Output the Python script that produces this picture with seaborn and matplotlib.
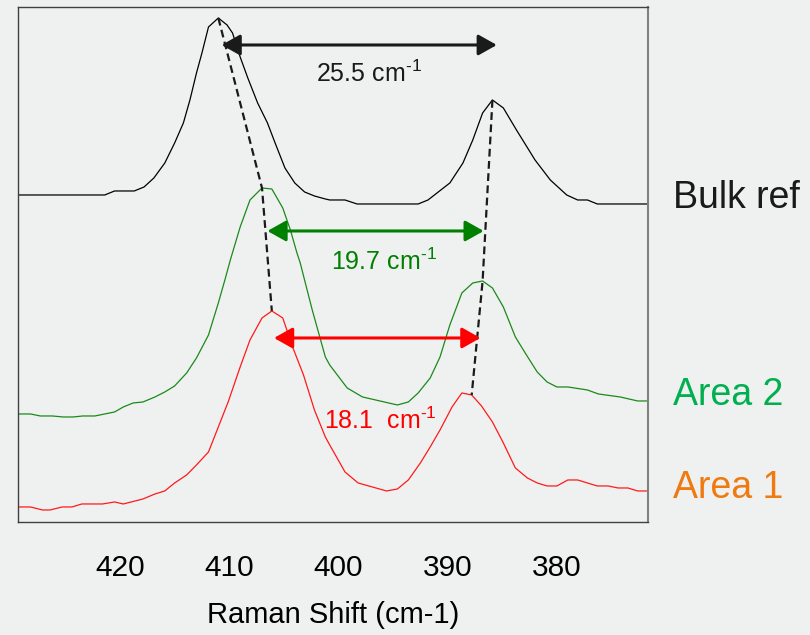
import numpy as np
import pandas as pd
import matplotlib
matplotlib.use("Agg")
import matplotlib.pyplot as plt
import seaborn as sns

# ---- data (Raman shift in cm-1, intensity in arbitrary offset units) ----
bulk_x = [429.3, 421.4, 420.5, 418.7, 417.8, 416.9, 415.9, 415.0, 414.2, 413.6, 413.0, 412.5,
          411.9, 411.0, 410.2, 409.7, 409.0, 408.3, 407.4, 406.5, 405.8, 404.9, 404.0, 403.1,
          402.2, 401.2, 400.8, 399.4, 398.3, 392.7, 391.8, 389.8, 388.6, 387.7, 386.8, 385.9,
          384.9, 383.7, 382.0, 380.6, 379.1, 378.1, 377.2, 376.3, 371.7]
bulk_y = [327, 327, 331, 331, 335, 344, 359, 379, 399, 422, 449, 469,
          495, 504, 497, 489, 465, 444, 419, 399, 379, 354, 339, 330,
          326, 323, 322, 322, 318, 318, 322, 339, 359, 382, 409, 422,
          414, 392, 362, 342, 327, 322, 322, 318, 318]

area2_x = [429.3, 428.2, 427.3, 426.2, 425.2, 424.3, 423.4, 422.3, 420.5, 419.7, 418.8, 417.9,
           416.8, 415.9, 415.0, 413.9, 413.0, 411.9, 411.0, 410.4, 409.9, 409.0, 408.1, 407.0,
           406.1, 405.1, 404.4, 403.8, 403.5, 402.4, 401.2, 400.8, 399.2, 397.8, 394.6, 393.6,
           392.7, 391.6, 390.7, 389.8, 388.7, 387.7, 386.8, 385.9, 384.9, 383.8, 382.9, 381.8,
           380.9, 380.0, 379.0, 377.2, 376.2, 374.2, 372.6, 371.7]
area2_y = [108, 108, 106, 106, 105, 105, 106, 106, 110, 115, 119, 120,
           125, 130, 136, 149, 164, 187, 219, 242, 262, 295, 322, 334,
           333, 314, 292, 269, 259, 212, 165, 157, 134, 125, 117, 120,
           129, 144, 165, 197, 229, 239, 241, 234, 215, 185, 169, 150,
           140, 135, 135, 132, 128, 125, 121, 121]

area1_x = [429.3, 428.2, 427.1, 426.4, 425.3, 424.4, 423.5, 421.6, 420.5, 419.7, 417.9, 416.8,
           415.9, 415.0, 413.9, 413.0, 411.9, 411.0, 410.1, 409.0, 408.1, 407.0, 406.1, 405.1,
           404.2, 403.2, 402.2, 401.2, 400.8, 399.4, 398.2, 395.6, 394.6, 393.6, 392.5, 391.6,
           390.7, 389.6, 388.7, 387.8, 386.9, 385.9, 384.9, 383.8, 382.7, 381.8, 380.9, 380.0,
           379.0, 378.1, 376.3, 375.3, 374.4, 373.5, 372.6, 371.7]
area1_y = [15, 15, 12, 12, 15, 15, 18, 18, 20, 18, 23, 28,
           31, 39, 47, 57, 70, 95, 120, 155, 182, 204, 211, 204,
           175, 147, 112, 85, 77, 50, 39, 31, 33, 42, 59, 75,
           92, 115, 129, 127, 116, 100, 79, 54, 44, 39, 36, 36,
           42, 42, 36, 36, 34, 34, 31, 31]

series_names = ["Bulk ref", "Area 2", "Area 1"]
line_colors = ["#000000", "#1a8a1a", "#ff1a1a"]
label_colors = ["#1a1a1a", "#00b050", "#ee7a10"]
label_levels = [324, 127, 34]

peak_left = [411.0, 407.0, 406.1]
peak_right = [385.9, 386.8, 387.8]

splits = [r"25.5 cm$^{\text{-1}}$", r"19.7 cm$^{\text{-1}}$", r"18.1  cm$^{\text{-1}}$"]
arrow_from = [410.7, 406.5, 405.9]
arrow_to = [385.5, 386.7, 387.0]
arrow_level = [477, 291, 184]
split_text_x = [397.2, 395.8, 396.2]
split_text_y = [448, 260, 101]
arrow_colors = ["#1a1a1a", "#008000", "#ff0000"]

xticks = [425, 420, 415, 410, 405, 400, 395, 390, 385, 380, 375]
xtick_labels = ["", "420", "", "410", "", "400", "", "390", "", "380", ""]

# ---- build table ----
frames = []
for name, xs, ys in zip(series_names, [bulk_x, area2_x, area1_x], [bulk_y, area2_y, area1_y]):
    frames.append(pd.DataFrame({"shift": xs, "intensity": ys, "sample": name}))
df = pd.concat(frames, ignore_index=True)

sns.set_style("white")
plt.rcParams["font.family"] = ["Liberation Sans", "DejaVu Sans"]
plt.rcParams["mathtext.fontset"] = "custom"
plt.rcParams["mathtext.rm"] = "Liberation Sans"
plt.rcParams["mathtext.it"] = "Liberation Sans:italic"
plt.rcParams["mathtext.bf"] = "Liberation Sans:bold"

bg = "#eff0f0"
fig = plt.figure(figsize=(8.1, 6.35), dpi=100, facecolor=bg)
ax = fig.add_axes([0.0228, 0.178, 0.7766, 0.811])
ax.set_facecolor(bg)

sns.lineplot(data=df, x="shift", y="intensity", hue="sample", palette=dict(zip(series_names, line_colors)),
             hue_order=series_names, sort=False, estimator=None, linewidth=0.9, legend=False, ax=ax)

ax.set_xlim(429.3, 371.7)
ax.set_ylim(0, 515)

# dashed lines connecting the peaks
all_x = [bulk_x, area2_x, area1_x]
all_y = [bulk_y, area2_y, area1_y]
for peaks in (peak_left, peak_right):
    py = [np.interp(p, xs[::-1], ys[::-1]) for p, xs, ys in zip(peaks, all_x, all_y)]
    ax.plot(peaks, py, ls=(0, (3.5, 2)), color="#1a1a1a", lw=1.6, zorder=4)

# splitting arrows and labels
for s, a0, a1, lv, tx, ty, c in zip(splits, arrow_from, arrow_to, arrow_level, split_text_x, split_text_y, arrow_colors):
    ax.annotate("", xy=(a1, lv), xytext=(a0, lv),
                arrowprops=dict(arrowstyle="<|-|>,head_length=0.8,head_width=0.45", color=c, lw=2.2,
                                shrinkA=0, shrinkB=0, mutation_scale=14), zorder=5)
    ax.text(tx, ty, s, color=c, fontsize=18, ha="center", va="center", zorder=6)

# sample labels on the right
for name, c, lv in zip(series_names, label_colors, label_levels):
    ax.text(1.04, lv, name, color=c, fontsize=27, ha="left", va="center",
            transform=ax.get_yaxis_transform(), clip_on=False)

ax.set_xticks(xticks)
ax.set_xticklabels(xtick_labels)
ax.set_yticks([])
ax.tick_params(axis="x", direction="out", length=8, width=1, color="#333333", labelcolor="black",
               labelsize=21.5, pad=15)
ax.set_xlabel("Raman Shift (cm-1)", fontsize=21, labelpad=14, color="black")
ax.set_ylabel("")
for side in ["left", "right", "top", "bottom"]:
    ax.spines[side].set_visible(True)
    ax.spines[side].set_color("#404040")
    ax.spines[side].set_linewidth(1.0)
ax.spines["right"].set_color("#808080")
ax.spines["right"].set_linewidth(1.5)

fig.savefig("out.png", dpi=100, facecolor=bg)
